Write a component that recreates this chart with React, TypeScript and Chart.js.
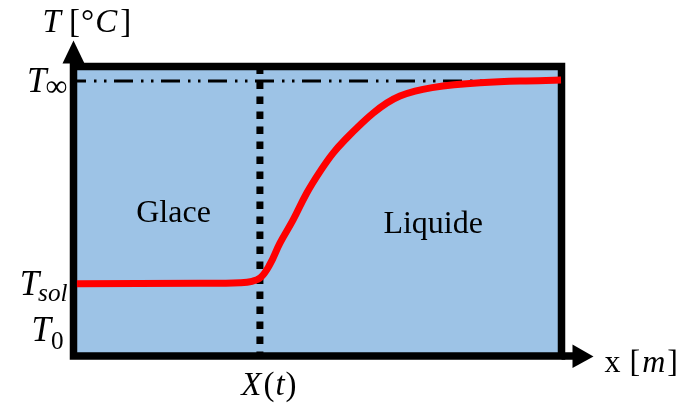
import React, { useEffect, useRef } from "react";
import { Chart, registerables } from "chart.js";

Chart.register(...registerables);

// ---- data ----
const curveX = [0.7, 25.9, 34.1, 36.6, 38.4, 40.2, 42.3, 45.0, 47.8, 50.5, 53.2, 56.0, 58.7, 61.4, 64.2, 66.9, 70.0, 73.5, 78.0, 83.3, 91.5, 99.9];
const curveY = [25.0, 25.1, 25.3, 25.8, 27.2, 31.5, 39.0, 47.0, 56.3, 63.7, 70.1, 75.3, 79.8, 83.9, 87.4, 89.8, 91.5, 92.7, 93.7, 94.4, 95.0, 95.3];

const T_INF = 95;
const T_SOL = 25;
const T_0 = 9;
const X_FRONT = 38.2;

const yTickValues = [T_INF, T_SOL, T_0];
const yTickMain = ["T", "T", "T"];
const yTickSub = ["∞", "sol", "0"];
const xTickLabelMain = "X";
const xTickLabelArg = "t";
const regionLabels = ["Glace", "Liquide"];
const regionAt = [
  [20.5, 46.4],
  [73.7, 42.5],
];

const SERIF = "'Liberation Serif', 'DejaVu Serif', serif";

type Run = { t: string; italic?: boolean; scale?: number; dy?: number; dx?: number };

function fontOf(r: Run, base: number) {
  const size = base * (r.scale ?? 1);
  return `${r.italic ? "italic " : ""}${size}px ${SERIF}`;
}

function drawRuns(ctx: CanvasRenderingContext2D, runs: Run[], x: number, y: number, align: "left" | "right" | "center", base: number) {
  let total = 0;
  const widths = runs.map((r) => {
    ctx.font = fontOf(r, base);
    const w = ctx.measureText(r.t).width;
    total += w + (r.dx ?? 0);
    return w;
  });
  let cx = align === "left" ? x : align === "right" ? x - total : x - total / 2;
  ctx.textAlign = "left";
  ctx.textBaseline = "alphabetic";
  runs.forEach((r, i) => {
    ctx.font = fontOf(r, base);
    cx += r.dx ?? 0;
    ctx.fillText(r.t, cx, y + (r.dy ?? 0));
    cx += widths[i];
  });
}

const decorPlugin = {
  id: "decor",
  beforeDatasetsDraw(chart: any) {
    const { ctx, chartArea: a } = chart;
    ctx.save();
    ctx.fillStyle = "#9DC3E6";
    ctx.fillRect(a.left, a.top, a.right - a.left, a.bottom - a.top);
    ctx.strokeStyle = "#000";
    ctx.lineWidth = 7.5;
    ctx.lineJoin = "miter";
    ctx.strokeRect(a.left, a.top, a.right - a.left, a.bottom - a.top);
    ctx.beginPath();
    ctx.moveTo(a.right, a.bottom);
    ctx.lineTo(a.right + 14, a.bottom);
    ctx.stroke();
    ctx.fillStyle = "#000";
    ctx.beginPath();
    ctx.moveTo(a.right + 11, a.bottom - 11.5);
    ctx.lineTo(a.right + 32, a.bottom + 0.5);
    ctx.lineTo(a.right + 11, a.bottom + 12);
    ctx.closePath();
    ctx.fill();
    ctx.beginPath();
    ctx.moveTo(a.left - 11, a.top - 3);
    ctx.lineTo(a.left, a.top - 26);
    ctx.lineTo(a.left + 11, a.top - 3);
    ctx.closePath();
    ctx.fill();
    ctx.restore();
  },
  afterDatasetsDraw(chart: any) {
    const { ctx, chartArea: a, scales } = chart;
    const xs = scales.x;
    const ys = scales.y;
    ctx.save();
    ctx.fillStyle = "#000";
    yTickValues.forEach((v, i) => {
      const py = ys.getPixelForValue(v);
      const sub = yTickSub[i];
      const subRun: Run =
        sub === "∞"
          ? { t: sub, italic: false, scale: 0.88, dy: 4, dx: -1 }
          : sub === "0"
          ? { t: sub, italic: false, scale: 0.72, dy: 8, dx: 0 }
          : { t: sub, italic: true, scale: 0.72, dy: 6, dx: -1 };
      const right = sub === "0" ? a.left - 10 : a.left - 6;
      drawRuns(ctx, [{ t: yTickMain[i], italic: true }, subRun], right, py + 11, "right", 35);
    });
    const px = xs.getPixelForValue(X_FRONT);
    drawRuns(
      ctx,
      [
        { t: xTickLabelMain, italic: true },
        { t: "(", dx: 2 },
        { t: xTickLabelArg, italic: true, dx: 1 },
        { t: ")", dx: 1 },
      ],
      px + 9,
      a.bottom + 39,
      "center",
      33
    );
    drawRuns(
      ctx,
      [
        { t: "T", italic: true },
        { t: " [", dx: 0 },
        { t: "°", dx: 1 },
        { t: "C", italic: true, dx: 1 },
        { t: "]", dx: 3 },
      ],
      a.left - 31,
      32,
      "left",
      33
    );
    drawRuns(
      ctx,
      [
        { t: "x" },
        { t: " [", dx: 1 },
        { t: "m", italic: true, dx: 2 },
        { t: "]", dx: 2 },
      ],
      a.right + 43,
      a.bottom + 16,
      "left",
      32
    );
    regionLabels.forEach((txt, i) => {
      const [vx, vy] = regionAt[i];
      ctx.font = `32px ${SERIF}`;
      ctx.textAlign = "center";
      ctx.textBaseline = "alphabetic";
      ctx.fillText(txt, xs.getPixelForValue(vx), ys.getPixelForValue(vy));
    });
    ctx.restore();
  },
};

export default function App() {
  const ref = useRef<HTMLCanvasElement | null>(null);
  useEffect(() => {
    if (!ref.current) return;
    const chart = new Chart(ref.current, {
      type: "line",
      data: {
        datasets: [
          {
            data: curveX.map((x, i) => ({ x, y: curveY[i] })),
            borderColor: "#FF0000",
            borderWidth: 7,
            borderCapStyle: "butt",
            tension: 0.4,
            pointRadius: 0,
            clip: false,
          } as any,
          {
            data: [
              { x: X_FRONT, y: 100 },
              { x: X_FRONT, y: 0 },
            ],
            borderColor: "#000",
            borderWidth: 7,
            borderDash: [7.5, 7.5],
            borderCapStyle: "butt",
            pointRadius: 0,
            clip: false,
          } as any,
          {
            data: [
              { x: 0, y: T_INF },
              { x: 100, y: T_INF },
            ],
            borderColor: "#000",
            borderWidth: 3,
            borderDash: [19, 8, 2.5, 7.5, 2.5, 7.5],
            borderDashOffset: 6.5,
            borderCapStyle: "butt",
            pointRadius: 0,
            clip: false,
          } as any,
        ],
      },
      options: {
        responsive: false,
        devicePixelRatio: 1,
        animation: false,
        events: [],
        layout: { padding: { left: 73.5, right: 117.5, top: 66.5, bottom: 54 } },
        scales: {
          x: { type: "linear", min: 0, max: 100, display: false },
          y: { type: "linear", min: 0, max: 100, display: false },
        },
        plugins: { legend: { display: false }, tooltip: { enabled: false } },
      },
      plugins: [decorPlugin],
    });
    return () => chart.destroy();
  }, []);
  return (
    <div style={{ position: "absolute", left: 0, top: 0, width: 679, height: 410, background: "#fff" }}>
      <canvas ref={ref} width={679} height={410} style={{ display: "block" }} />
    </div>
  );
}
